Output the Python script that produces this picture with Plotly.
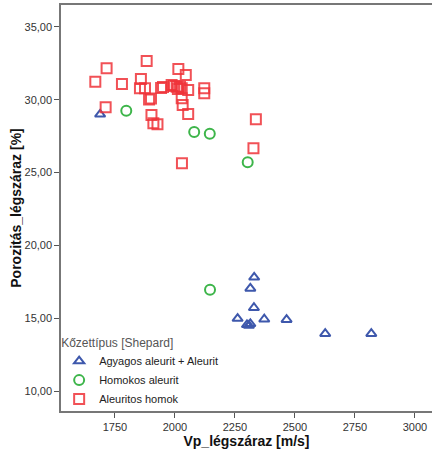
import plotly.graph_objects as go

# --- data ---
tri_x = [1688, 2330, 2314, 2329, 2261, 2300, 2308, 2314, 2372, 2465, 2626, 2818]
tri_y = [29.0, 17.81, 17.05, 15.72, 14.98, 14.55, 14.50, 14.62, 14.93, 14.90, 13.94, 13.94]

circ_x = [1797, 2080, 2145, 2303, 2146]
circ_y = [29.25, 27.79, 27.67, 25.71, 16.96]

sq_x = [1668, 1715, 1779, 1711, 1882, 1858, 1854, 1875, 1892, 1900, 1902, 1910,
        1927, 1942, 1950, 2014, 2045, 1986, 2007, 2021, 2028, 2055, 2122, 2122,
        2028, 2032, 2055, 2337, 2327, 2029, 1996, 2012]
sq_y = [31.24, 32.16, 31.09, 29.48, 32.66, 31.43, 30.79, 30.79, 30.02, 30.09, 28.96, 28.39,
        28.32, 30.81, 30.88, 32.12, 31.70, 31.02, 30.90, 30.90, 30.79, 30.67, 30.79, 30.45,
        30.10, 29.64, 29.02, 28.66, 26.67, 25.64, 30.95, 30.75]

series_names = ["Agyagos aleurit + Aleurit", "Homokos aleurit", "Aleuritos homok"]
x_ticks = [1750, 2000, 2250, 2500, 2750, 3000]
y_ticks = [10, 15, 20, 25, 30, 35]

BLUE = "#3E58AC"
GREEN = "#3DB54A"
RED = "#EE3338"

fig = go.Figure()
fig.add_trace(go.Scatter(
    x=tri_x, y=tri_y, mode="markers", name=series_names[0],
    marker=dict(symbol="triangle-up-open", size=9, color=BLUE, line=dict(width=2, color=BLUE)),
))
fig.add_trace(go.Scatter(
    x=circ_x, y=circ_y, mode="markers", name=series_names[1],
    marker=dict(symbol="circle-open", size=10, color=GREEN, line=dict(width=2, color=GREEN)),
))
fig.add_trace(go.Scatter(
    x=sq_x, y=sq_y, mode="markers", name=series_names[2],
    marker=dict(symbol="square-open", size=10, color=RED, opacity=0.85, line=dict(width=2, color=RED)),
))

FONT = "Liberation Sans, Arial, sans-serif"

fig.update_layout(
    width=432, height=459,
    margin=dict(l=61, r=0, t=5, b=48, autoexpand=False),
    paper_bgcolor="white", plot_bgcolor="white",
    separators=", ",
    font=dict(family=FONT, size=11, color="#333333"),
    showlegend=True,
    legend=dict(
        title=dict(text="Kőzettípus [Shepard]", font=dict(size=12, color="#555555")),
        x=-0.005, y=0.197, xanchor="left", yanchor="top",
        bgcolor="rgba(0,0,0,0)",
        font=dict(size=11, color="#222222"),
        itemwidth=30, tracegroupgap=0,
    ),
    xaxis=dict(
        range=[1525, 3071], tickvals=x_ticks, tickformat="d",
        showgrid=False, zeroline=False, automargin=False,
        showline=True, linecolor="#777777", linewidth=1.5, mirror=True,
        ticks="outside", ticklen=5, tickcolor="#555555", tickwidth=1,
        tickfont=dict(size=11, color="#333333"),
        title=dict(text="<b>Vp_légszáraz [m/s]</b>", font=dict(size=14, color="#111111"), standoff=4),
    ),
    yaxis=dict(
        range=[8.63, 36.51], tickvals=y_ticks, tickformat=".2f",
        showgrid=False, zeroline=False, automargin=False,
        showline=True, linecolor="#777777", linewidth=1.5, mirror=False,
        ticks="outside", ticklen=5, tickcolor="#555555", tickwidth=1,
        tickfont=dict(size=11, color="#333333"),
        title=dict(text="<b>Porozitás_légszáraz [%]</b>", font=dict(size=14, color="#111111"), standoff=0),
    ),
)

fig.write_html(
    "out.html",
    config={"displayModeBar": False},
    post_script="document.body.style.margin='0';document.body.style.overflow='hidden';",
)
